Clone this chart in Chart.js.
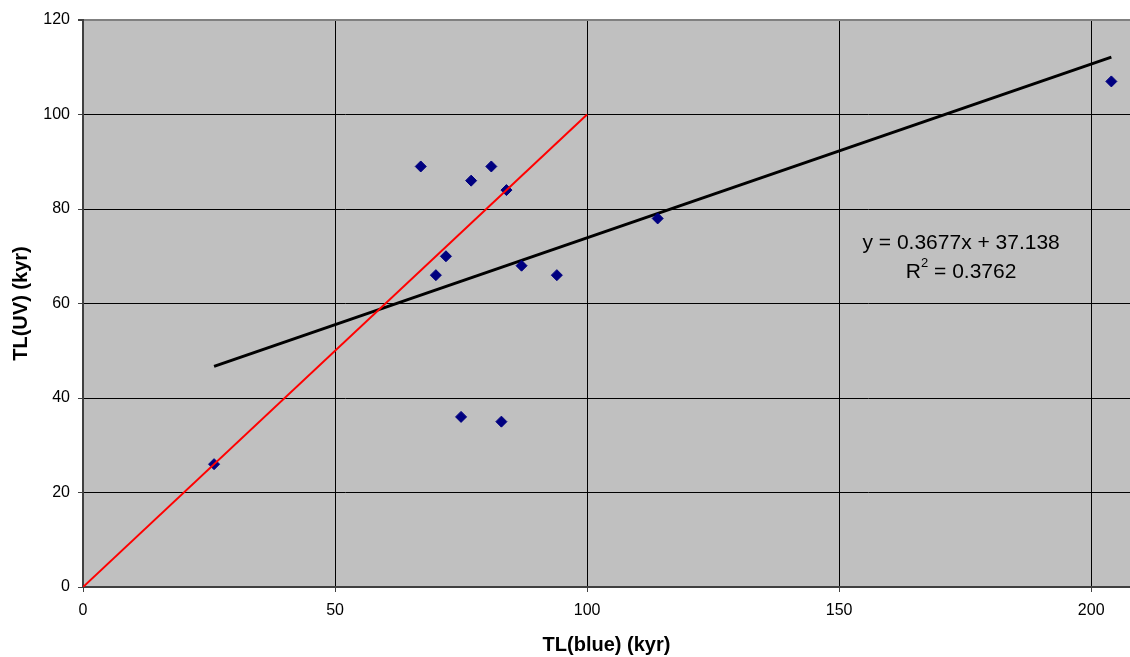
<!DOCTYPE html>
<html>
<head>
<meta charset="utf-8">
<title>TL(UV) vs TL(blue)</title>
<script src="https://cdn.jsdelivr.net/npm/chart.js@4"></script>
<style>
  html, body { margin: 0; padding: 0; background: #fff; }
  #wrap { width: 1130px; height: 657px; }
</style>
</head>
<body>
<div id="wrap"><canvas id="tlChart" width="1130" height="657"></canvas></div>
<script>
// Sample ages, TL(blue) vs TL(UV), in kyr
const tlBlue = [26, 67, 77, 81, 84, 72, 70, 87, 94, 114, 204, 75, 83];
const tlUV = [26, 89, 86, 89, 84, 70, 66, 68, 66, 78, 107, 36, 35];

// Linear fit as reported on the chart
const fitSlope = 0.3677;
const fitIntercept = 37.138;
const fitR2 = 0.3762;
const fitRange = [26, 204];

// 1:1 reference line
const oneToOne = [0, 100];

const xTicks = [0, 50, 100, 150, 200];
const yTicks = [0, 20, 40, 60, 80, 100, 120];

const FONT = "'Liberation Sans', Arial, sans-serif";

const scatterPoints = tlBlue.map((x, i) => ({ x: x, y: tlUV[i] }));
const fitPoints = fitRange.map((x) => ({ x: x, y: fitSlope * x + fitIntercept }));
const refPoints = oneToOne.map((v) => ({ x: v, y: v }));

// grey plot background
const plotBackground = {
  id: "plotBackground",
  beforeDraw(chart) {
    const { ctx, chartArea: a } = chart;
    ctx.save();
    ctx.fillStyle = "#ffffff";
    ctx.fillRect(0, 0, chart.width, chart.height);
    ctx.fillStyle = "#c0c0c0";
    ctx.fillRect(a.left, a.top, a.right - a.left, a.bottom - a.top);
    ctx.restore();
  },
};

// equation + R² label next to the trend line
const fitLabel = {
  id: "fitLabel",
  afterDraw(chart) {
    const { ctx } = chart;
    const xs = chart.scales.x;
    const ys = chart.scales.y;
    const cx = xs.getPixelForValue(174.2);
    const y1 = ys.getPixelForValue(72.8);
    const y2 = ys.getPixelForValue(66.6);
    ctx.save();
    ctx.fillStyle = "#000";
    ctx.textBaseline = "middle";
    ctx.font = "21px " + FONT;
    ctx.textAlign = "center";
    ctx.fillText(`y = ${fitSlope}x + ${fitIntercept}`, cx, y1);

    const head = "R";
    const tail = ` = ${fitR2}`;
    ctx.font = "21px " + FONT;
    const wHead = ctx.measureText(head).width;
    const wTail = ctx.measureText(tail).width;
    ctx.font = "13px " + FONT;
    const wSup = ctx.measureText("2").width;
    let x = cx - (wHead + wSup + wTail) / 2;
    ctx.textAlign = "left";
    ctx.font = "21px " + FONT;
    ctx.fillText(head, x, y2);
    x += wHead;
    ctx.font = "13px " + FONT;
    ctx.fillText("2", x, y2 - 9);
    x += wSup;
    ctx.font = "21px " + FONT;
    ctx.fillText(tail, x, y2);
    ctx.restore();
  },
};

new Chart(document.getElementById("tlChart"), {
  type: "scatter",
  data: {
    datasets: [
      {
        label: "1:1",
        type: "line",
        data: refPoints,
        borderColor: "#ff0000",
        borderWidth: 2,
        pointRadius: 0,
        fill: false,
        order: 0,
      },
      {
        label: "TL",
        data: scatterPoints,
        backgroundColor: "#000080",
        borderColor: "#000080",
        borderWidth: 1,
        pointStyle: "rectRot",
        pointRadius: 5.5,
        order: 1,
      },
      {
        label: "Linear fit",
        type: "line",
        data: fitPoints,
        borderColor: "#000000",
        borderWidth: 3,
        pointRadius: 0,
        fill: false,
        order: 2,
      },
    ],
  },
  options: {
    responsive: false,
    animation: false,
    layout: {
      autoPadding: false,
      padding: { top: 20, right: 0, left: 0, bottom: 0 },
    },
    plugins: {
      legend: { display: false },
      tooltip: { enabled: false },
    },
    scales: {
      x: {
        type: "linear",
        min: 0,
        max: 207.7,
        afterBuildTicks: (s) => { s.ticks = xTicks.map((v) => ({ value: v })); },
        afterFit: (s) => { s.height = 70; },
        ticks: {
          color: "#000",
          font: { family: FONT, size: 16 },
          padding: 9,
          maxRotation: 0,
        },
        grid: {
          color: "#000",
          lineWidth: 1,
          tickLength: 5,
          tickColor: "#404040",
        },
        border: { color: "#404040", width: 2 },
        title: {
          display: true,
          text: "TL(blue) (kyr)",
          color: "#000",
          font: { family: FONT, size: 20, weight: "bold" },
          padding: { top: 0, bottom: 0 },
        },
      },
      y: {
        type: "linear",
        min: 0,
        max: 120,
        afterBuildTicks: (s) => { s.ticks = yTicks.map((v) => ({ value: v })); },
        afterFit: (s) => { s.width = 83; },
        ticks: {
          color: "#000",
          font: { family: FONT, size: 16 },
          padding: 8,
        },
        grid: {
          color: (c) => (c.tick && c.tick.value === 120 ? "#808080" : "#000"),
          lineWidth: (c) => (c.tick && c.tick.value === 120 ? 2 : 1),
          tickLength: 5,
          tickColor: "#404040",
        },
        border: { color: "#404040", width: 2 },
        title: {
          display: true,
          text: "TL(UV) (kyr)",
          color: "#000",
          font: { family: FONT, size: 20, weight: "bold" },
          padding: { top: 9, bottom: 0 },
        },
      },
    },
  },
  plugins: [plotBackground, fitLabel],
});
</script>
</body>
</html>
